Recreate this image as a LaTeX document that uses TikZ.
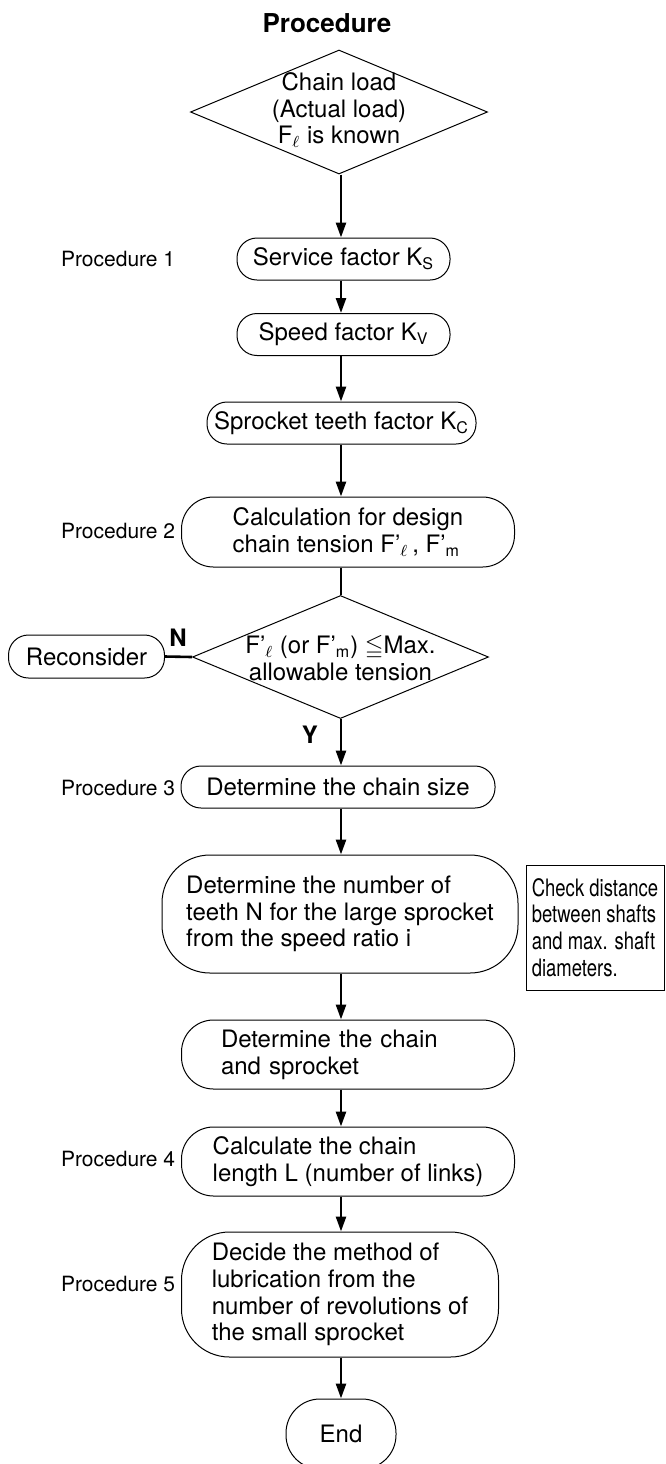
\documentclass[tikz,border=0pt]{standalone}
\usepackage{amssymb}
\usepackage{fontspec}
\setmainfont{TeX Gyre Heros}
\newfontfamily\narrowfont[FakeStretch=0.77]{TeX Gyre Heros}
\usepackage{tikz}
\usetikzlibrary{shapes.geometric,arrows.meta}

\tikzset{
  procbox/.style={draw, line width=0.5pt, rounded corners=10pt, align=left, inner sep=0pt},
  decision/.style={draw, diamond, line width=0.5pt, inner sep=0pt},
  flow/.style={line width=1.3pt, -{Triangle[length=7.5pt,width=5pt]}},
  plain/.style={line width=1.3pt},
  proclabel/.style={anchor=west, font=\fontsize{10.5}{12}\selectfont},
  yn/.style={font=\fontsize{12}{14}\selectfont\bfseries}
}

\begin{document}
\begin{tikzpicture}[x=0.5pt,y=-0.5pt,font=\fontsize{12}{13.4}\selectfont]
\useasboundingbox (0,0) rectangle (665,1464);
\coordinate (spine) at (341,0);

% Title
\node[font=\fontsize{13}{15}\selectfont\bfseries] (title) at (327,23) {Procedure};

% Start
\node[decision, minimum width=148.5pt, minimum height=62pt] (load) at (339,112) {};
\node[align=center] (loadtext) at (339,110) {Chain load\\(Actual load)\\F\textsubscript{$\ell$} is known};

% Procedure 1
\node[procbox, minimum width=106.5pt, minimum height=21pt] (service) at (343.5,259) {Service factor K\textsubscript{S}};
\node[procbox, minimum width=106.5pt, minimum height=21pt] (speed) at (343.5,334.5) {Speed factor K\textsubscript{V}};
\node[procbox, minimum width=134.5pt, minimum height=21pt] (teeth) at (341.5,423) {Sprocket teeth factor K\textsubscript{C}};

% Procedure 2
\node[procbox, rounded corners=16pt, minimum width=166.5pt, minimum height=35pt] (design) at (348,532)
  {Calculation for design\\chain tension F’\textsubscript{$\ell$}\,, F’\textsubscript{m}};
\node[decision, minimum width=148pt, minimum height=61.5pt] (tension) at (340.5,657) {};
\node[align=center] (tensiontext) at (340.5,658) {F’\textsubscript{$\ell$} (or F’\textsubscript{m}) $\leqq$Max.\\allowable tension};
\node[procbox, minimum width=78pt, minimum height=21.5pt] (reconsider) at (86.5,656.5) {Reconsider};
\node[yn] (no) at (178,638) {N};
\node[yn] (yes) at (310,735) {Y};

% Procedure 3
\node[procbox, minimum width=157pt, minimum height=21pt] (size) at (338,787) {Determine the chain size};
\node[procbox, rounded corners=24pt, minimum width=178pt, minimum height=59pt] (number) at (340,914)
  {Determine the number of\\teeth N for the large sprocket\\from the speed ratio i};
\node[draw, line width=0.5pt, align=left, inner sep=0pt, minimum width=69pt, minimum height=62.5pt,
  font=\narrowfont\fontsize{12}{13.35}\selectfont] (shaftnote) at (595,927.5)
  {Check distance\\between shafts\\and max. shaft\\diameters.};
\node[procbox, rounded corners=16pt, text width=127pt, minimum width=166.5pt, minimum height=34.5pt] (select) at (348,1054.5)
  {Determine the chain\\and sprocket};

% Procedure 4
\node[procbox, rounded corners=16pt, minimum width=166.5pt, minimum height=34.5pt] (length) at (348,1161.5)
  {Calculate the chain\\length L (number of links)};

% Procedure 5
\node[procbox, rounded corners=24pt, minimum width=158.5pt, minimum height=62.5pt] (lube) at (340,1294.5)
  {Decide the method of\\lubrication from the\\number of revolutions of\\the small sprocket};
\node[procbox, rounded corners=17pt, minimum width=55pt, minimum height=35pt] (stop) at (341,1434) {End};

% Procedure labels
\foreach \n/\y in {1/259, 2/531, 3/788, 4/1159, 5/1284}
  \node[proclabel] (proc\n) at (54,\y) {Procedure \n};

% Connectors
\draw[flow] (spine |- load.south) -- (spine |- service.north);
\draw[flow] (spine |- service.south) -- (spine |- speed.north);
\draw[flow] (spine |- speed.south) -- (spine |- teeth.north);
\draw[flow] (spine |- teeth.south) -- (spine |- design.north);
\draw[plain] (spine |- design.south) -- (spine |- tension.north);
\draw[plain] (reconsider.east) -- (tension.west);
\draw[flow] (spine |- tension.south) -- (spine |- size.north);
\draw[flow] (spine |- size.south) -- (spine |- number.north);
\draw[flow] (spine |- number.south) -- (spine |- select.north);
\draw[flow] (spine |- select.south) -- (spine |- length.north);
\draw[flow] (spine |- length.south) -- (spine |- lube.north);
\draw[flow] (spine |- lube.south) -- (spine |- stop.north);
\end{tikzpicture}
\end{document}
